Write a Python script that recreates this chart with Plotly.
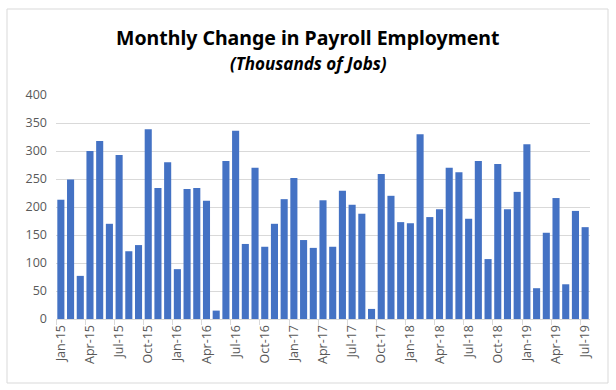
import plotly.graph_objects as go

months = ["Jan", "Feb", "Mar", "Apr", "May", "Jun", "Jul", "Aug", "Sep", "Oct", "Nov", "Dec"]
categories = [f"{m}-{y}" for y in ["15", "16", "17", "18", "19"] for m in months][:55]

values_2015 = [213, 249, 77, 300, 318, 170, 293, 121, 132, 339, 234, 280]
values_2016 = [89, 232, 234, 211, 15, 282, 336, 134, 270, 129, 170, 214]
values_2017 = [252, 141, 127, 212, 129, 229, 204, 188, 18, 259, 220, 173]
values_2018 = [171, 330, 182, 196, 270, 262, 179, 282, 107, 277, 196, 227]
values_2019 = [312, 55, 154, 216, 62, 193, 164]
values = values_2015 + values_2016 + values_2017 + values_2018 + values_2019

y_ticks = [0, 50, 100, 150, 200, 250, 300, 350, 400]

W, H = 616, 390
L, R, T, B = 56, 26, 95, 71

fig = go.Figure(go.Bar(x=categories, y=values, marker_color="#4472C4",
                       marker_line_width=0))

pw = W - L - R
ph = H - T - B
def px_x(x):
    return (x - L) / pw
def px_y(y):
    return (H - B - y) / ph

fig.update_layout(
    width=W, height=H,
    margin=dict(l=L, r=R, t=T, b=B),
    paper_bgcolor="white", plot_bgcolor="white",
    bargap=0.27,
    showlegend=False,
    font=dict(family="Open Sans, Arial, sans-serif", color="#595959", size=12),
    annotations=[
        dict(text="<b>Monthly Change in Payroll Employment</b>", xref="paper", yref="paper",
             x=px_x(308), y=px_y(37), xanchor="center", yanchor="middle",
             showarrow=False, font=dict(size=19.5, color="black", family="Noto Sans, Arial, sans-serif")),
        dict(text="<b><i>(Thousands of Jobs)</i></b>", xref="paper", yref="paper",
             x=px_x(308), y=px_y(63), xanchor="center", yanchor="middle",
             showarrow=False, font=dict(size=17, color="black", family="Noto Sans, Arial, sans-serif")),
    ],
    shapes=[
        dict(type="rect", xref="paper", yref="paper",
             x0=px_x(7), x1=px_x(608), y0=px_y(383), y1=px_y(9),
             line=dict(color="#d9d9d9", width=1), fillcolor="rgba(0,0,0,0)", layer="below"),
    ],
)

fig.update_xaxes(
    type="category", tickmode="linear", tick0=0, dtick=3,
    tickangle=-90, tickson="boundaries", ticks="outside", ticklen=5,
    tickcolor="#d9d9d9", showline=True, linecolor="#d9d9d9", linewidth=1,
    showgrid=False, tickfont=dict(size=12.5, color="#595959"),
)
fig.update_yaxes(
    range=[0, 400], tickvals=y_ticks, showgrid=True, gridcolor="#d9d9d9",
    gridwidth=1, zeroline=False, showline=False, ticks="",
    tickfont=dict(size=12.5, color="#595959"), ticklabelstandoff=8,
)

fig.write_html("out.html", config={"displayModeBar": False})

with open("out.html", "r", encoding="utf-8") as f:
    html = f.read()
html = html.replace("<head>", "<head><style>html,body{margin:0;padding:0;overflow:hidden;}</style>", 1)
with open("out.html", "w", encoding="utf-8") as f:
    f.write(html)
